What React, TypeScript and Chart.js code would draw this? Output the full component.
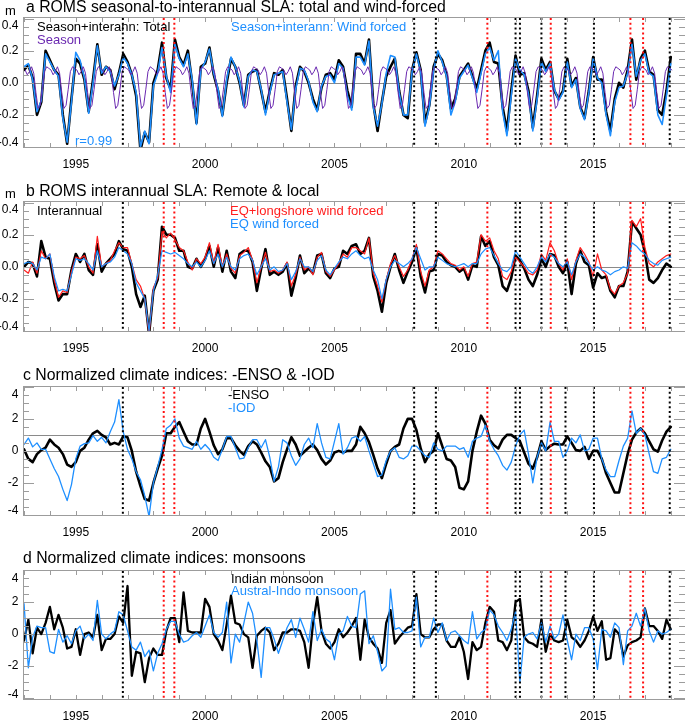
import React, { useEffect, useRef } from 'react';
import { Chart, registerables } from 'chart.js';
Chart.register(...registerables);

// ---------- time base ----------
const START = 1993.0;          // first sample (decimal year)
const STEP = 1 / 6;            // two-monthly samples
const X_MIN = 1992.96;
const X_MAX = 2018.55;
const YEAR_LABELS = [1995, 2000, 2005, 2010, 2015];
const BLACK_EVENTS = [1996.82, 2008.08, 2008.92, 2012.0, 2012.17, 2013.0, 2013.93, 2015.03, 2017.96];
const RED_EVENTS = [1998.4, 1998.81, 2010.91, 2013.36, 2016.44, 2016.93];

// ---------- panel a ----------
const seasonClim = [0.08, 0.05, 0.07, 0.1, 0.06, -0.06, -0.16, -0.14, -0.04, 0.07, 0.1, 0.09];
const aTotal = [
  0.08, 0.11, 0.03, -0.2, -0.12, 0.2,
  0.14, 0.08, 0.05, -0.2, -0.38, -0.1,
  0.15, 0.12, 0.02, -0.18, 0.02, 0.24,
  0.05, 0.1, 0.08, -0.04, 0.06, 0.18,
  0.13, 0.05, -0.08, -0.42, -0.31, -0.37,
  0.0, 0.08, 0.25, 0.03, -0.04, 0.27,
  0.16, 0.11, 0.2, 0.0, -0.25, 0.1,
  0.12, 0.22, 0.05, -0.05, -0.2, 0.0,
  0.15, 0.1, 0.0, -0.14, 0.05, 0.07,
  0.08, -0.05, -0.18, -0.05, 0.06, 0.05,
  0.08, -0.1, -0.3, -0.02, 0.1, 0.07,
  0.0, -0.1, -0.17, -0.03, 0.05, 0.06,
  0.02, 0.14, 0.1, -0.05, -0.15, 0.18,
  0.18, 0.12, 0.27, -0.13, -0.3, -0.12,
  0.04, 0.1, 0.15, -0.05, -0.2, -0.22,
  0.08, 0.19, 0.08, -0.25, -0.14, 0.1,
  0.18, 0.14, 0.05, -0.16, -0.1, 0.04,
  0.08, 0.12, 0.04, -0.04, 0.08, 0.2,
  0.25, 0.13, 0.12, -0.15, -0.3, -0.05,
  0.17, 0.05, 0.06, -0.05, -0.28, -0.08,
  0.15, 0.08, 0.13, -0.05, -0.1, -0.05,
  0.15, -0.02, 0.03, -0.15, -0.22, -0.05,
  0.16, 0.02, 0.02, -0.18, -0.3, -0.1,
  0.0, -0.03, 0.08, 0.27, 0.02, 0.15,
  0.2, 0.07, 0.05, -0.17, -0.2, -0.05,
  0.16,
];
const aWind = [
  0.1, 0.12, 0.02, -0.18, -0.11, 0.18,
  0.13, 0.08, 0.04, -0.22, -0.37, -0.12,
  0.19, 0.14, 0.03, -0.19, 0.0, 0.23,
  0.06, 0.1, 0.07, -0.02, 0.05, 0.16,
  0.12, 0.05, -0.06, -0.4, -0.3, -0.38,
  -0.02, 0.06, 0.22, 0.04, -0.06, 0.24,
  0.15, 0.1, 0.18, 0.02, -0.26, 0.08,
  0.13, 0.21, 0.06, -0.04, -0.21, 0.02,
  0.16, 0.1, 0.01, -0.15, 0.04, 0.08,
  0.07, -0.04, -0.2, -0.06, 0.05, 0.06,
  0.07, -0.12, -0.29, -0.04, 0.09, 0.08,
  0.01, -0.12, -0.18, -0.02, 0.04, 0.05,
  0.0, 0.12, 0.09, -0.08, -0.17, 0.16,
  0.16, 0.11, 0.26, -0.15, -0.27, -0.13,
  0.06, 0.17, 0.16, -0.06, -0.2, -0.2,
  0.07, 0.18, 0.07, -0.27, -0.15, 0.08,
  0.2, 0.13, 0.04, -0.2, -0.12, 0.03,
  0.07, 0.11, 0.03, -0.06, 0.06, 0.18,
  0.22, 0.14, 0.2, -0.18, -0.33, -0.08,
  0.15, 0.08, 0.05, -0.07, -0.3, -0.1,
  0.13, 0.07, 0.12, -0.04, -0.11, -0.06,
  0.13, -0.03, 0.02, -0.16, -0.23, -0.06,
  0.15, 0.03, 0.0, -0.2, -0.33, -0.12,
  -0.03, -0.02, 0.06, 0.24, 0.04, 0.14,
  0.18, 0.06, 0.04, -0.2, -0.26, -0.08,
  0.12,
];

// ---------- panel b ----------
const bInter = [
  0.0, 0.03, 0.02, -0.06, 0.16, 0.06,
  0.05, -0.1, -0.21, -0.17, -0.17, -0.02,
  0.08, 0.03, 0.08, -0.02, -0.05, 0.14,
  -0.03, 0.02, 0.05, 0.08, 0.16, 0.11,
  0.1, 0.0, -0.17, -0.25, -0.18, -0.42,
  -0.15, -0.08, 0.25, 0.2, 0.2, 0.18,
  0.1, 0.1, 0.0, -0.01, 0.05, 0.0,
  0.05, 0.13, 0.0, 0.12, -0.03, 0.1,
  -0.03, -0.07, 0.08, 0.1, 0.1, 0.03,
  -0.15, -0.01, 0.11, -0.05, -0.03, -0.05,
  -0.03, 0.02, -0.18, -0.07, 0.07, -0.04,
  -0.01, -0.04, 0.07, 0.08, -0.04, -0.07,
  -0.01, 0.0, 0.1, 0.08, 0.13, 0.14,
  0.08, 0.1, 0.18, -0.06, -0.15, -0.28,
  -0.1, 0.0, 0.08, -0.02, -0.1, -0.03,
  0.03, 0.12, -0.06, -0.16, -0.03, -0.02,
  0.08, 0.07, 0.03, 0.01, 0.0, -0.03,
  -0.01, -0.08, 0.01, 0.0, 0.19, 0.13,
  0.16, 0.06, 0.01, -0.12, -0.15, -0.07,
  0.07, 0.04, -0.01, -0.08, -0.12, -0.05,
  0.05, 0.0, 0.08, 0.07, 0.0, -0.04,
  0.03, -0.17, 0.02, 0.1, 0.03, 0.01,
  -0.13, -0.04, -0.07, -0.06, -0.15, -0.19,
  -0.12, -0.12, -0.03, 0.28, 0.24, 0.2,
  0.09, -0.08, -0.1, -0.07, -0.02, 0.02,
  0.0,
];
const bEqLongshore = [
  -0.02, -0.04, 0.03, -0.04, 0.1, 0.05,
  0.08, -0.08, -0.19, -0.15, -0.16, -0.03,
  0.06, 0.05, 0.07, 0.0, -0.04, 0.19,
  0.0, 0.02, 0.04, 0.1, 0.15, 0.12,
  0.12, 0.02, -0.08, -0.12, -0.2, -0.42,
  -0.13, -0.07, 0.22, 0.18, 0.21, 0.17,
  0.12, 0.1, 0.03, -0.02, 0.05, 0.02,
  0.06, 0.15, 0.02, 0.14, 0.0, 0.08,
  -0.01, -0.04, 0.07, 0.09, 0.12, 0.04,
  -0.1, 0.0, 0.09, -0.03, -0.02, -0.04,
  -0.02, 0.03, -0.12, -0.05, 0.06, -0.02,
  0.0, -0.05, 0.06, 0.09, -0.03, -0.06,
  -0.02, 0.02, 0.08, 0.06, 0.12, 0.12,
  0.1, 0.08, 0.18, -0.04, -0.12, -0.22,
  -0.08, 0.02, 0.07, 0.0, -0.06, -0.02,
  0.05, 0.14, -0.03, -0.12, -0.02, 0.0,
  0.1, 0.08, 0.05, 0.02, 0.01, -0.02,
  0.0, -0.06, 0.02, 0.03, 0.2, 0.16,
  0.18, 0.1, 0.05, -0.06, -0.08, -0.03,
  0.06, 0.03, 0.0, -0.04, -0.05, -0.02,
  0.08, 0.04, 0.15, 0.1, 0.02, -0.02,
  0.05, -0.08, 0.04, 0.12, 0.08, 0.03,
  -0.06, 0.08, -0.02, -0.05, -0.14, -0.17,
  -0.12, -0.1, -0.04, 0.29, 0.25, 0.3,
  0.12, 0.02, 0.0, 0.03, 0.05, 0.07,
  0.08,
];
const bEq = [
  0.02, 0.03, 0.02, -0.02, 0.06, 0.05,
  0.08, -0.06, -0.15, -0.14, -0.15, -0.05,
  0.05, 0.04, 0.05, 0.02, -0.02, 0.1,
  0.0, 0.02, 0.03, 0.06, 0.12, 0.1,
  0.08, 0.02, -0.1, -0.15, -0.2, -0.4,
  -0.15, -0.05, 0.1, 0.09, 0.08, 0.09,
  0.07, 0.05, 0.02, 0.0, 0.03, 0.0,
  0.04, 0.1, 0.02, 0.08, 0.0, 0.06,
  0.0, -0.02, 0.05, 0.07, 0.08, 0.04,
  -0.05, 0.0, 0.05, -0.02, 0.0, -0.03,
  -0.02, 0.02, -0.08, -0.03, 0.05, 0.0,
  0.0, -0.03, 0.04, 0.07, -0.02, -0.05,
  -0.01, 0.03, 0.06, 0.05, 0.08, 0.1,
  0.07, 0.05, 0.06, -0.02, -0.08, -0.2,
  -0.08, 0.0, 0.04, 0.02, 0.0, 0.02,
  0.05, 0.12, 0.05, -0.02, 0.0, 0.0,
  0.06, 0.04, 0.02, 0.01, 0.0, 0.01,
  0.02, 0.0, 0.02, 0.02, 0.08, 0.11,
  0.12, 0.07, 0.02, -0.02, -0.03, 0.0,
  0.1, 0.06, 0.02, -0.02, -0.04, 0.0,
  0.06, 0.03, 0.08, 0.06, 0.02, 0.0,
  0.03, -0.05, 0.03, 0.08, 0.06, 0.02,
  -0.02, 0.0, -0.02, -0.03, -0.05, -0.03,
  -0.02, 0.0, -0.01, 0.15, 0.13, 0.1,
  0.08, 0.04, 0.02, 0.01, 0.04, 0.05,
  0.06,
];

// ---------- panel c ----------
const cEnso = [
  0.1, -0.5, -0.7, -0.2, 0.05, 0.2,
  0.7, 0.4, 0.2, -0.2, -0.85, -1.0,
  -0.7, 0.0, 0.2, 0.7, 1.1, 1.25,
  1.0, 0.85, 0.4, 0.5, 0.4, 0.9,
  0.85, 0.0, -1.3, -2.2, -3.0, -3.1,
  -2.0, -1.1, -0.3, 1.1, 1.1, 1.5,
  1.8, 1.2, 0.6, 0.4, 0.4, 1.4,
  2.0, 1.2, 0.35, -0.2, 0.1, 0.8,
  0.8, 0.35, 0.0, -0.25, 0.3, 0.6,
  0.4, -0.1, -0.65, -1.0, -1.9, -1.7,
  -0.7, 0.1, 0.85, 0.4, -0.3, -0.05,
  0.2, 0.4, 0.05, -0.5, -0.85, -0.6,
  -0.1, 0.0, -0.1, 0.0, 0.0, 0.4,
  1.5, 1.1, 0.55, -0.25, -1.1, -1.7,
  -0.8, 0.0, 0.25, 0.4, 1.4, 2.0,
  2.0, 1.3, 0.15, -0.7, -0.2, 0.0,
  1.1, 0.3, -0.5, -0.6, -1.0, -2.3,
  -2.4, -1.9, 0.0, 1.2, 2.2, 1.7,
  0.7, 0.35, 0.15, 0.7, 1.0, 1.0,
  0.8, 0.6, -0.1, -0.8, -1.1, -0.4,
  0.6, 0.05, 0.3, 0.45, 0.4, 0.4,
  0.9, 0.5, 0.05, 0.0, 0.25, -0.5,
  0.0, 0.0, -0.5, -1.4, -2.0, -2.6,
  -2.6, -1.4, -0.2, 0.7, 1.15, 1.4,
  1.1, 0.6, 0.1, -0.05, 0.65, 1.2,
  1.5,
];
const cIod = [
  0.4, 0.8, 0.25, 0.5, 0.1, 0.1,
  -0.5, -1.1, -1.6, -2.4, -3.1, -2.1,
  -0.5, 0.3, 0.45, 0.5, 0.95, 0.6,
  0.85, 0.5, 1.2, 1.8, 3.2, 1.2,
  0.1, -0.5, -1.3, -1.8, -2.8, -4.1,
  -2.0, -1.0, 0.1, 1.4, 1.6, 2.0,
  0.8, 0.3, 0.2, 0.1, 0.6, 0.1,
  0.4, 0.1, -0.4, -0.6, 0.1, 0.9,
  0.9, 0.2, -0.5, -0.45, 0.2, 0.7,
  0.7, 0.2, 0.7, -0.4, -1.9, -1.0,
  0.7, 0.5, -0.3, -0.9, -0.5, 0.4,
  0.8, 0.2, 1.7, 0.5, -0.4, -0.5,
  0.6, 1.7, -0.2, 0.2, 0.8, 0.9,
  0.6, 0.9, 0.0, -0.8, -1.6, -1.5,
  -0.6, 0.0, 0.2, -0.4, -0.5, -0.3,
  0.3, 0.3, 0.0, -0.3, -0.4, 0.5,
  0.1, 0.0, 0.3, 0.3, 0.3, 0.1,
  0.2, -0.4, 0.6, 0.8, 0.9, 1.6,
  0.6, 0.1, -0.3, -0.9, -1.2, -0.7,
  0.3, 1.0, 1.3, -0.2, -2.0, -0.4,
  0.5, 0.0, 1.8, 0.6, 0.6, -0.4,
  0.0, 0.8, 0.5, 1.0, 0.0, 0.1,
  0.8, 0.8, -0.5, -1.2, -1.6, -1.6,
  -0.6, 0.3, 0.8, 2.5, 1.1, 1.4,
  1.0, -0.2, -1.3, -1.4, -0.5, -0.4,
  0.1,
];

// ---------- panel d ----------
const dIndian = [
  -0.4, 0.9, -1.2, 0.4, 0.0, 0.7,
  1.7, 0.3, 1.2, 0.4, -0.9, -0.8,
  0.3, -1.3, 0.0, 0.1, -0.2, 1.2,
  -1.0, -0.3, -0.3, 0.0, 1.1, 0.7,
  3.0, -2.6, -1.1, -1.2, -3.0, -1.5,
  -0.9, -1.3, -1.3, 0.2, 1.0, 1.0,
  -0.5, 2.6, 0.2, 0.1, 0.1, 0.1,
  2.2, 1.7, 0.0, -0.4, -1.0, 0.6,
  2.4, 0.7, 0.6, 0.0, -0.2, -2.1,
  -0.1, 0.2, 0.4, 0.1, -1.0, -0.6,
  0.1, 0.1, 0.3, 0.3, 0.2, -0.5,
  -2.1, 0.6, 2.3, 0.2, -0.6, -0.9,
  -0.5, 0.3, -0.2, 0.1, 0.5, 1.0,
  -1.6, 0.9, -0.2, -0.6, -0.9, -1.8,
  0.7, 1.5, -0.6, -0.2, 0.1, 0.4,
  0.5, 2.5, 0.0, -0.2, -0.2, 0.3,
  0.6, 0.6, -0.4, -0.8, -0.8, -0.2,
  -1.1, -2.8, -0.5, -1.0, -0.8, 0.7,
  1.7, 1.4, -0.4, -0.5, -1.0, -0.4,
  2.0, 2.2, -0.2, -0.5, -0.6, -0.8,
  0.9, -1.1, 0.0, -0.4, -0.5, -0.4,
  0.9, -0.2, -0.4, -0.8, -0.4, 0.2,
  1.1, 0.2, 0.8, -1.6, -1.5, 0.3,
  0.0, -1.4, -0.7, -0.5, -0.4, -0.2,
  1.6, 0.5, 0.5, 0.2, -0.3, 0.9,
  0.3,
];
const dAustral = [
  1.9, -2.1, -0.2, 0.5, 0.4, 0.4,
  -1.1, -1.2, 0.3, -0.5, -0.1, -0.6,
  0.2, 0.5, -0.3, 0.0, -0.4, 2.1,
  0.0, -0.3, 0.0, 0.2, 1.4, 1.2,
  0.2, -0.8, -1.0, -0.5, -1.4, -1.0,
  -2.3, -1.2, -0.6, 0.3, 0.8, 0.8,
  0.0, -0.5, -0.4, -0.1, 0.1, -0.2,
  0.5, 1.2, 0.1, -0.2, 0.1, 2.0,
  -1.8, 0.0, -0.5, 0.7, 2.0, 1.3,
  -0.4, -2.7, 0.4, 0.4, -0.3, -1.2,
  -0.4, 0.4, 0.9, -0.2, 1.0, 0.3,
  -0.5, 1.4, -0.4, 0.3, -0.3, -0.5,
  -1.6, 0.0, 0.2, 1.1, 0.5, 0.4,
  2.5, 2.7, -0.6, -0.1, -1.1, -2.3,
  -2.0, 2.8, 0.3, 0.4, 0.1, 0.1,
  0.2, 2.3, -0.8, -0.2, -0.2, 1.0,
  0.1, 0.7, -0.4, 0.1, 0.2, -0.1,
  -0.4, -0.6, 1.4, -0.3, 0.1, 0.3,
  1.5, 1.2, 0.5, 0.1, -0.4, 0.3,
  1.4, -3.0, -0.2, 0.0, 0.1, -0.3,
  0.7, -0.5, 0.5, -0.3, 0.0, 1.2,
  -0.4, -1.6, 0.0, -0.4, 0.4, 0.4,
  -0.3, -2.2, 0.3, 0.2, -0.2, 0.7,
  0.4, -1.9, 0.2, 0.5, 1.3, 0.5,
  1.6, 0.2, -0.5, 0.2, 0.0, 0.1,
  0.3,
];

// ---------- styling ----------
const FONT = '"Liberation Sans", Arial, Helvetica, sans-serif';
const BLUE = '#1E8FFF';
const RED = '#FF1E1E';
const PURPLE = '#6A28B0';
const BLACK = '#000000';
const FRAME = '#9c9c9c';

const pts = (arr: number[]) => arr.map((v, i) => ({ x: START + i * STEP, y: v }));
const seasonPts = (() => {
  const out: { x: number; y: number }[] = [];
  for (let m = 0; m < 301; m++) out.push({ x: 1993 + (m + 0.5) / 12, y: seasonClim[m % 12] });
  return out;
})();

const ds = (data: any[], color: string, width: number, order: number) => ({
  data, borderColor: color, borderWidth: width, order, pointRadius: 0, tension: 0,
  fill: false, borderJoinStyle: 'round', borderCapStyle: 'round',
});

type Txt = { text: string; x: number; y: number; color: string; size: number };
interface Panel {
  top: number; height: number; plotTop: number; plotBottom: number;
  yMin: number; yMax: number; minor: number; major: number;
  yLabels: number[]; fmt: (v: number) => string;
  hlines: number[]; texts: Txt[]; datasets: any[];
}

const TITLE = 15.8;

const PANELS: Panel[] = [
  {
    top: 0, height: 175, plotTop: 17, plotBottom: 147, yMin: -0.4, yMax: 0.41, minor: 0.05, major: 0.2,
    yLabels: [-0.4, -0.2, 0, 0.2, 0.4], fmt: (v) => v.toFixed(1), hlines: [0],
    texts: [
      { text: 'a ROMS seasonal-to-interannual SLA: total and wind-forced', x: 26, y: 12, color: BLACK, size: TITLE },
      { text: 'm', x: 5, y: 15, color: BLACK, size: 13 },
      { text: 'Season+interann: Total', x: 37, y: 31, color: BLACK, size: 13 },
      { text: 'Season', x: 37, y: 44, color: PURPLE, size: 13 },
      { text: 'Season+interann: Wind forced', x: 231, y: 31, color: BLUE, size: 13 },
      { text: 'r=0.99', x: 75, y: 144.5, color: BLUE, size: 13 },
    ],
    datasets: [
      ds(pts(aTotal), BLACK, 2.6, 3),
      ds(pts(aWind), BLUE, 1.6, 2),
      ds(seasonPts, PURPLE, 1, 1),
    ],
  },
  {
    top: 175, height: 180, plotTop: 201, plotBottom: 331, yMin: -0.4, yMax: 0.41, minor: 0.05, major: 0.2,
    yLabels: [-0.4, -0.2, 0, 0.2, 0.4], fmt: (v) => v.toFixed(1), hlines: [0],
    texts: [
      { text: 'b ROMS interannual SLA: Remote & local', x: 26, y: 195.5, color: BLACK, size: TITLE },
      { text: 'm', x: 5, y: 198, color: BLACK, size: 13 },
      { text: 'Interannual', x: 37, y: 215, color: BLACK, size: 13 },
      { text: 'EQ+longshore wind forced', x: 230, y: 215, color: RED, size: 13 },
      { text: 'EQ wind forced', x: 230, y: 227.5, color: BLUE, size: 13 },
    ],
    datasets: [
      ds(pts(bInter), BLACK, 2.6, 3),
      ds(pts(bEqLongshore), RED, 1.2, 2),
      ds(pts(bEq), BLUE, 1.2, 1),
    ],
  },
  {
    top: 355, height: 190, plotTop: 386, plotBottom: 515, yMin: -4, yMax: 4.05, minor: 0.5, major: 2,
    yLabels: [-4, -2, 0, 2, 4], fmt: (v) => String(v), hlines: [0, 1],
    texts: [
      { text: 'c Normalized climate indices: -ENSO & -IOD', x: 23, y: 379.5, color: BLACK, size: TITLE },
      { text: '-ENSO', x: 228, y: 399, color: BLACK, size: 13 },
      { text: '-IOD', x: 228, y: 411.5, color: BLUE, size: 13 },
    ],
    datasets: [
      ds(pts(cEnso), BLACK, 2.6, 2),
      ds(pts(cIod), BLUE, 1.3, 1),
    ],
  },
  {
    top: 545, height: 175, plotTop: 570, plotBottom: 699, yMin: -4.05, yMax: 4.0, minor: 0.5, major: 2,
    yLabels: [-4, -2, 0, 2, 4], fmt: (v) => String(v), hlines: [0, 1],
    texts: [
      { text: 'd Normalized climate indices: monsoons', x: 23, y: 562.5, color: BLACK, size: TITLE },
      { text: 'Indian monsoon', x: 231, y: 582.5, color: BLACK, size: 13 },
      { text: 'Austral-Indo monsoon', x: 231, y: 595, color: BLUE, size: 13 },
    ],
    datasets: [
      ds(pts(dIndian), BLACK, 2.3, 2),
      ds(pts(dAustral), BLUE, 1.3, 1),
    ],
  },
];

function makePlugin(p: Panel) {
  return {
    id: 'deco',
    beforeDatasetsDraw(chart: any) {
      const { ctx, chartArea: a, scales } = chart;
      ctx.save();
      ctx.strokeStyle = '#8a8a8a';
      ctx.lineWidth = 1;
      p.hlines.forEach((v) => {
        const py = Math.round(scales.y.getPixelForValue(v)) + 0.5;
        ctx.beginPath();
        ctx.moveTo(a.left, py);
        ctx.lineTo(a.right, py);
        ctx.stroke();
      });
      ctx.restore();
    },
    afterDatasetsDraw(chart: any) {
      const { ctx, chartArea: a, scales } = chart;
      const xs = scales.x, ys = scales.y;
      ctx.save();
      // event lines
      ctx.lineWidth = 2;
      ctx.setLineDash([2, 2.8]);
      const ev = (yr: number, col: string) => {
        const px = xs.getPixelForValue(yr);
        ctx.strokeStyle = col;
        ctx.beginPath();
        ctx.moveTo(px, a.top + 1);
        ctx.lineTo(px, a.bottom);
        ctx.stroke();
      };
      BLACK_EVENTS.forEach((e) => ev(e, '#000'));
      RED_EVENTS.forEach((e) => ev(e, '#ff1010'));
      ctx.setLineDash([]);
      // frame
      ctx.strokeStyle = FRAME;
      ctx.lineWidth = 1;
      ctx.strokeRect(a.left + 0.5, a.top + 0.5, a.right - a.left, a.bottom - a.top);
      // y ticks
      const k0 = Math.ceil(p.yMin / p.minor - 1e-6);
      for (let k = k0; k * p.minor <= p.yMax + 1e-6; k++) {
        const v = k * p.minor;
        const isMajor = Math.abs(v / p.major - Math.round(v / p.major)) < 1e-6;
        const len = isMajor ? 11 : 6;
        const py = Math.round(ys.getPixelForValue(v)) + 0.5;
        ctx.beginPath();
        ctx.moveTo(a.left, py); ctx.lineTo(a.left + len, py);
        ctx.moveTo(a.right, py); ctx.lineTo(a.right - len, py);
        ctx.stroke();
      }
      // x ticks (yearly)
      for (let yr = 1993; yr <= 2018; yr++) {
        const px = Math.round(xs.getPixelForValue(yr)) + 0.5;
        ctx.beginPath();
        ctx.moveTo(px, a.top); ctx.lineTo(px, a.top + 5);
        ctx.moveTo(px, a.bottom); ctx.lineTo(px, a.bottom - 4);
        ctx.stroke();
      }
      ctx.restore();
    },
    afterDraw(chart: any) {
      const { ctx, chartArea: a, scales } = chart;
      ctx.save();
      ctx.textBaseline = 'alphabetic';
      ctx.textAlign = 'left';
      p.texts.forEach((t) => {
        ctx.fillStyle = t.color;
        ctx.font = `${t.size}px ${FONT}`;
        ctx.fillText(t.text, t.x, t.y - p.top);
      });
      ctx.fillStyle = '#000';
      ctx.font = `12px ${FONT}`;
      ctx.textBaseline = 'middle';
      ctx.textAlign = 'right';
      p.yLabels.forEach((v) => {
        let py = scales.y.getPixelForValue(v);
        py = Math.max(a.top + 8.5, Math.min(a.bottom - 4, py));
        ctx.fillText(p.fmt(v), 18.5, py);
      });
      ctx.textAlign = 'center';
      YEAR_LABELS.forEach((yr) => {
        ctx.fillText(String(yr), scales.x.getPixelForValue(yr), a.bottom + 17.5);
      });
      ctx.restore();
    },
  };
}

export default function App() {
  const r0 = useRef<HTMLCanvasElement>(null);
  const r1 = useRef<HTMLCanvasElement>(null);
  const r2 = useRef<HTMLCanvasElement>(null);
  const r3 = useRef<HTMLCanvasElement>(null);
  const refs = [r0, r1, r2, r3];

  useEffect(() => {
    const charts = PANELS.map((p, i) => new Chart(refs[i].current as HTMLCanvasElement, {
      type: 'line',
      data: { datasets: p.datasets },
      options: {
        responsive: false,
        devicePixelRatio: 1,
        animation: false,
        events: [],
        parsing: false,
        layout: { padding: { left: 23, right: 0, top: p.plotTop - p.top, bottom: p.top + p.height - p.plotBottom } },
        scales: {
          x: { type: 'linear', min: X_MIN, max: X_MAX, display: false },
          y: { type: 'linear', min: p.yMin, max: p.yMax, display: false },
        },
        plugins: { legend: { display: false }, tooltip: { enabled: false }, title: { display: false } },
      },
      plugins: [makePlugin(p)],
    } as any));
    return () => charts.forEach((c) => c.destroy());
  }, []);

  return (
    <div style={{ position: 'absolute', left: 0, top: 0, width: 685, height: 720, background: '#fff', overflow: 'hidden' }}>
      {PANELS.map((p, i) => (
        <canvas key={i} ref={refs[i]} width={685} height={p.height}
          style={{ position: 'absolute', left: 0, top: p.top, width: 685, height: p.height, display: 'block' }} />
      ))}
    </div>
  );
}
